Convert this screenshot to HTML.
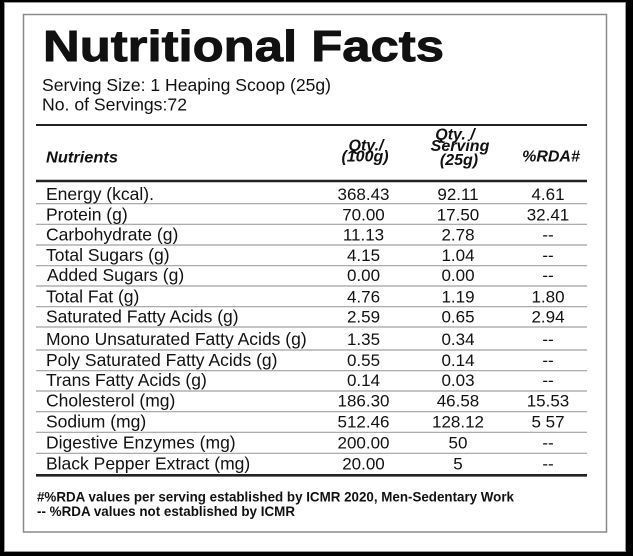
<!DOCTYPE html>
<html><head><meta charset="utf-8"><style>
html,body{margin:0;padding:0;background:#000;}
svg{display:block;}
text{font-family:"Liberation Sans",Arial,sans-serif;fill:#111;}
.t{font-size:17.5px;}
.n{font-size:17px;}
.h{font-size:16px;font-weight:bold;font-style:italic;}
.f{font-size:13.6px;font-weight:bold;}
</style></head><body>
<svg width="633" height="556" viewBox="0 0 633 556" xmlns="http://www.w3.org/2000/svg">
<rect x="0" y="0" width="633" height="556" fill="#000"/>
<rect x="4.5" y="2.5" width="621" height="549" fill="#fff" stroke="#999" stroke-width="1"/>
<rect x="23.5" y="14.5" width="583" height="517.5" fill="#fff" stroke="#8a8a8a" stroke-width="1.5"/>

<text x="43" y="61" style="font-size:43.5px;font-weight:bold;stroke:#111;stroke-width:0.9px" textLength="401" lengthAdjust="spacingAndGlyphs">Nutritional Facts</text>

<text class="t" x="42" y="91" textLength="289" lengthAdjust="spacingAndGlyphs">Serving Size: 1 Heaping Scoop (25g)</text>
<text class="t" x="42" y="110.5" textLength="145" lengthAdjust="spacingAndGlyphs">No. of Servings:72</text>

<line x1="36" y1="125" x2="587" y2="125" stroke="#222" stroke-width="2"/>

<text class="h" x="46" y="162.5" textLength="72" lengthAdjust="spacingAndGlyphs">Nutrients</text>
<text class="h" x="366" y="150.5" text-anchor="middle">Qty./</text>
<text class="h" x="365" y="161.5" text-anchor="middle">(100g)</text>
<text class="h" x="455" y="139.5" text-anchor="middle">Qty. /</text>
<text class="h" x="460" y="151" text-anchor="middle">Serving</text>
<text class="h" x="459" y="165" text-anchor="middle">(25g)</text>
<text class="h" x="551" y="161.7" text-anchor="middle">%RDA#</text>

<line x1="36" y1="181" x2="587" y2="181" stroke="#222" stroke-width="2.4"/>

<g stroke="#a0a0a0" stroke-width="1.2">
<line x1="36" y1="203.7" x2="587" y2="203.7"/>
<line x1="36" y1="224.3" x2="587" y2="224.3"/>
<line x1="36" y1="245" x2="587" y2="245"/>
<line x1="36" y1="265.7" x2="587" y2="265.7"/>
<line x1="36" y1="286" x2="587" y2="286"/>
<line x1="36" y1="306.7" x2="587" y2="306.7"/>
<line x1="36" y1="327" x2="587" y2="327"/>
<line x1="36" y1="350" x2="587" y2="350"/>
<line x1="36" y1="370.7" x2="587" y2="370.7"/>
<line x1="36" y1="391" x2="587" y2="391"/>
<line x1="36" y1="411.7" x2="587" y2="411.7"/>
<line x1="36" y1="432.3" x2="587" y2="432.3"/>
<line x1="36" y1="453.3" x2="587" y2="453.3"/>
</g>
<line x1="36" y1="475.3" x2="587" y2="475.3" stroke="#222" stroke-width="2.6"/>

<g>
<text class="t" x="46" y="200">Energy (kcal).</text>
<text class="t" x="46" y="220.7">Protein (g)</text>
<text class="t" x="46" y="240.7">Carbohydrate (g)</text>
<text class="t" x="46" y="261">Total Sugars (g)</text>
<text class="t" x="47" y="281">Added Sugars (g)</text>
<text class="t" x="46" y="302.3">Total Fat (g)</text>
<text class="t" x="46" y="322.7">Saturated Fatty Acids (g)</text>
<text class="t" x="46" y="345">Mono Unsaturated Fatty Acids (g)</text>
<text class="t" x="46" y="366">Poly Saturated Fatty Acids (g)</text>
<text class="t" x="46" y="386">Trans Fatty Acids (g)</text>
<text class="t" x="46" y="406.7">Cholesterol (mg)</text>
<text class="t" x="46" y="427.7">Sodium (mg)</text>
<text class="t" x="46" y="448.3">Digestive Enzymes (mg)</text>
<text class="t" x="46" y="469.3">Black Pepper Extract (mg)</text>
</g>

<g text-anchor="middle">
<text class="n" x="363.5" y="200">368.43</text>
<text class="n" x="363.5" y="220.7">70.00</text>
<text class="n" x="363.5" y="240.7">11.13</text>
<text class="n" x="363.5" y="261">4.15</text>
<text class="n" x="363.5" y="281">0.00</text>
<text class="n" x="363.5" y="302.3">4.76</text>
<text class="n" x="363.5" y="322.7">2.59</text>
<text class="n" x="363.5" y="345">1.35</text>
<text class="n" x="363.5" y="366">0.55</text>
<text class="n" x="363.5" y="386">0.14</text>
<text class="n" x="363.5" y="406.7">186.30</text>
<text class="n" x="363.5" y="427.7">512.46</text>
<text class="n" x="363.5" y="448.3">200.00</text>
<text class="n" x="363.5" y="469.3">20.00</text>

<text class="n" x="458" y="200">92.11</text>
<text class="n" x="458" y="220.7">17.50</text>
<text class="n" x="458" y="240.7">2.78</text>
<text class="n" x="458" y="261">1.04</text>
<text class="n" x="458" y="281">0.00</text>
<text class="n" x="458" y="302.3">1.19</text>
<text class="n" x="458" y="322.7">0.65</text>
<text class="n" x="458" y="345">0.34</text>
<text class="n" x="458" y="366">0.14</text>
<text class="n" x="458" y="386">0.03</text>
<text class="n" x="458" y="406.7">46.58</text>
<text class="n" x="458" y="427.7">128.12</text>
<text class="n" x="458" y="448.3">50</text>
<text class="n" x="458" y="469.3">5</text>

<text class="n" x="548" y="200">4.61</text>
<text class="n" x="548" y="220.7">32.41</text>
<text class="n" x="548" y="240.7">--</text>
<text class="n" x="548" y="261">--</text>
<text class="n" x="548" y="281">--</text>
<text class="n" x="548" y="302.3">1.80</text>
<text class="n" x="548" y="322.7">2.94</text>
<text class="n" x="548" y="345">--</text>
<text class="n" x="548" y="366">--</text>
<text class="n" x="548" y="386">--</text>
<text class="n" x="548" y="406.7">15.53</text>
<text class="n" x="548" y="427.7">5 57</text>
<text class="n" x="548" y="448.3">--</text>
<text class="n" x="548" y="469.3">--</text>
</g>

<text class="f" x="37" y="501.5" textLength="477" lengthAdjust="spacingAndGlyphs">#%RDA values per serving established by ICMR 2020, Men-Sedentary Work</text>
<text class="f" x="37" y="516" textLength="258" lengthAdjust="spacingAndGlyphs">-- %RDA values not established by ICMR</text>
</svg>
</body></html>
